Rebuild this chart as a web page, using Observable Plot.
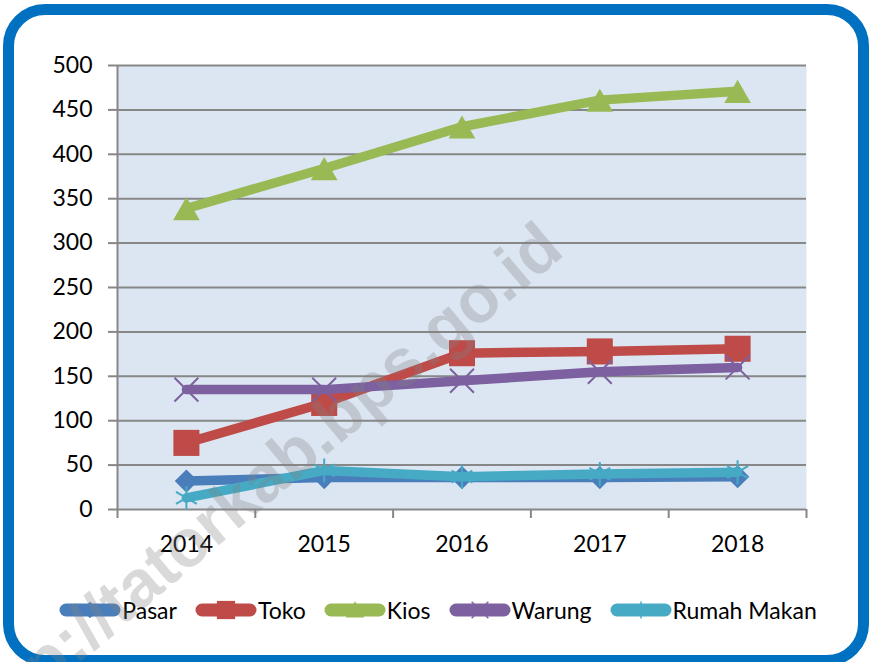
<!DOCTYPE html>
<html><head><meta charset="utf-8">
<script src="https://cdn.jsdelivr.net/npm/d3@7"></script>
<script src="https://cdn.jsdelivr.net/npm/@observablehq/plot@0.6"></script>
<style>
html,body{margin:0;padding:0;background:#fff;}
#wrap{position:relative;width:870px;height:662px;overflow:hidden;background:#fff;font-family:Lato,"Noto Sans",sans-serif;}
#frame{position:absolute;left:3px;top:4px;width:866px;height:662px;box-sizing:border-box;border:11px solid #0070c0;border-radius:42px;}
#chart{position:absolute;left:0;top:0;}
#legend{position:absolute;left:0;top:592px;width:870px;height:36px;display:flex;justify-content:center;align-items:center;gap:18px;padding-left:6px;box-sizing:border-box;}
.item{display:flex;align-items:center;font-size:23px;color:#000;}
.item svg{display:block;margin-right:1px;}
#wm{position:absolute;left:0;top:0;pointer-events:none;}
</style></head><body>
<div id="wrap"><div id="frame"></div><div id="chart"></div><div id="legend"></div>
<svg id="wm" width="870" height="662"><text id="wmt" font-family="Liberation Sans, Arial, sans-serif" font-weight="bold" font-size="67" fill="#808080" fill-opacity="0.3" text-anchor="end" transform="translate(566,254) rotate(-40)">http://tatorkab.bps.go.id</text></svg>
</div>
<script>
const years = [2014, 2015, 2016, 2017, 2018];
const seriesNames = ["Pasar", "Toko", "Kios", "Warung", "Rumah Makan"];
const pasar = [32, 36, 36, 36, 37];
const toko = [75, 120, 176, 178, 181];
const kios = [339, 384, 431, 461, 471];
const warung = [135, 135, 145, 155, 160];
const rumahMakan = [13, 44, 37, 40, 42];
const yTicks = [0, 50, 100, 150, 200, 250, 300, 350, 400, 450, 500];
const colors = ["#4a7ebb", "#be4b48", "#98b954", "#7d60a0", "#46aac5"];
const symbols = ["diamond2", "square", "triangle", "times", "asterisk"];
const radii = [10.5, 14.7, 9.9, 10.9, 11.4];

const values = [pasar, toko, kios, warung, rumahMakan];
const rows = [];
seriesNames.forEach((s, i) => years.forEach((y, j) => rows.push({series: s, year: y, value: values[i][j]})));
const bounds = [years[0] - 0.5, ...years.map(y => y + 0.5)];
const gridColor = "#878787";
const isStroke = s => s === "times" || s === "asterisk";

const marks = [
  Plot.frame({fill: "#dce6f2", stroke: "none"}),
  Plot.gridY(yTicks, {stroke: gridColor, strokeOpacity: 1, strokeWidth: 2}),
  Plot.axisY(yTicks, {tickSize: 9, tickPadding: 16, stroke: gridColor, strokeWidth: 2, fontSize: 23, fill: "#000", tickFormat: d => String(d), label: null}),
  Plot.ruleX([bounds[0]], {stroke: gridColor, strokeWidth: 2}),
  Plot.axisX(bounds, {tickSize: 9, tickFormat: () => "", stroke: gridColor, strokeWidth: 2, label: null}),
  Plot.axisX(years, {tickSize: 0, tickPadding: 26, fontSize: 23, fill: "#000", tickFormat: d => String(d), label: null})
];
seriesNames.forEach((s, i) => {
  const data = rows.filter(r => r.series === s);
  marks.push(Plot.line(data, {x: "year", y: "value", stroke: colors[i], strokeWidth: 9.5, strokeLinecap: "round", strokeLinejoin: "round"}));
  const sym = symbols[i];
  marks.push(Plot.dot(data, {x: "year", y: "value", symbol: sym, r: radii[i],
    fill: isStroke(sym) ? "none" : colors[i], stroke: isStroke(sym) ? colors[i] : "none",
    strokeWidth: 2, dy: sym === "triangle" ? 4 : 0}));
});

const chart = Plot.plot({
  width: 870, height: 560,
  marginLeft: 117, marginRight: 64, marginTop: 65, marginBottom: 51,
  x: {type: "linear", domain: [bounds[0], bounds[bounds.length - 1]]},
  y: {domain: [0, 500]},
  style: {fontFamily: "Lato, 'Noto Sans', sans-serif", background: "transparent", color: "#000", overflow: "visible"},
  marks
});
document.getElementById("chart").appendChild(chart);

const symMap = {diamond2: d3.symbolDiamond2, square: d3.symbolSquare, triangle: d3.symbolTriangle, times: d3.symbolTimes, asterisk: d3.symbolAsterisk};
const legend = d3.select("#legend");
seriesNames.forEach((s, i) => {
  const item = legend.append("div").attr("class", "item");
  const svg = item.append("svg").attr("width", 62).attr("height", 30);
  svg.append("line").attr("x1", 7).attr("x2", 55).attr("y1", 15).attr("y2", 15)
    .attr("stroke", colors[i]).attr("stroke-width", 13).attr("stroke-linecap", "round");
  const sym = symbols[i];
  const size = Math.PI * (radii[i] * 0.7) ** 2;
  svg.append("path").attr("d", d3.symbol(symMap[sym], size)())
    .attr("transform", `translate(31,${sym === "triangle" ? 17 : 15})`)
    .attr("fill", isStroke(sym) ? "none" : colors[i])
    .attr("stroke", isStroke(sym) ? colors[i] : "none").attr("stroke-width", 1.5);
  item.append("span").text(s);
});
</script>
</body></html>
